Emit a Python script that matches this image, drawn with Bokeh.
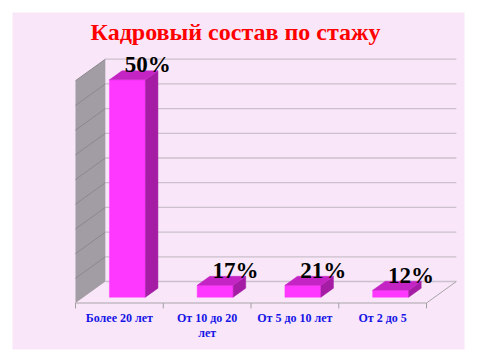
import numpy as np
from bokeh.plotting import figure
from bokeh.models import Range1d, ColumnDataSource
from bokeh.core.properties import value
from bokeh.embed import file_html
from bokeh.resources import INLINE

# ---------------- data ----------------
title_text = "Кадровый состав по  стажу"
categories = ["Более 20 лет", "От 10 до 20\nлет", "От 5 до 10 лет", "От 2 до 5"]
percent_labels = ["50%", "17%", "21%", "12%"]
bar_heights = [44.0, 2.4, 2.4, 1.4]          # plotted heights (value axis 0..45)
grid_values = [0, 5, 10, 15, 20, 25, 30, 35, 40, 45]

# ---------------- geometry (oblique 3-D projection in data units) ----------------
W, H = 481, 361
PX_PER_CAT = 87.75
PX_PER_VAL = 4.94
X0_PX, Y0_PX = 75.0, 302.5
DX = 0.34            # depth shift in category units (full wall depth)
DY = 4.35            # depth shift in value units (full wall depth)
VMAX = grid_values[-1]
NCAT = len(categories)

def proj(x, v, z):
    return x + z * DX, v + z * DY

p = figure(width=W, height=H, toolbar_location=None, output_backend="svg",
           x_range=Range1d(-X0_PX / PX_PER_CAT, (W - X0_PX) / PX_PER_CAT),
           y_range=Range1d(-(H - Y0_PX) / PX_PER_VAL, Y0_PX / PX_PER_VAL),
           x_axis_location=None, y_axis_location=None, min_border=0)
p.grid.visible = False
p.outline_line_color = None
p.background_fill_color = "white"
p.border_fill_color = "white"
p.extra_x_ranges = {"px": Range1d(0, W)}
p.extra_y_ranges = {"px": Range1d(H, 0)}
PX = dict(x_range_name="px", y_range_name="px")

# ---------------- card with blue glow ----------------
cx0, cy0, cx1, cy1 = 12, 12, 464, 349
yy, xx = np.mgrid[0:H, 0:W].astype(float)
ddx = np.maximum(np.maximum(cx0 - xx, xx - cx1), 0)
ddy = np.maximum(np.maximum(cy0 - yy, yy - cy1), 0)
d = np.sqrt(ddx ** 2 + ddy ** 2)
right_boost = np.where(xx > cx1, 1.3, 1.0)
vfade = np.clip(1.0 - (yy - 40) / 300.0, 0, 1) ** 1.1
alpha = np.clip(np.exp(-d / 4.5) * vfade * right_boost, 0, 1)
alpha[(ddx == 0) & (ddy == 0)] = 0
img = np.zeros((H, W), dtype=np.uint32)
view = img.view(dtype=np.uint8).reshape((H, W, 4))
view[:, :, 0] = 150
view[:, :, 1] = 150
view[:, :, 2] = 255
view[:, :, 3] = (alpha * 255).astype(np.uint8)
p.image_rgba(image=[img[::-1]], x=0, y=H, dw=W, dh=H, **PX)
p.quad(left=[cx0], right=[cx1], top=[cy0], bottom=[cy1],
       fill_color="#F9E6F9", line_color=None, **PX)

# ---------------- walls and floor ----------------
lw = [proj(0, 0, 0), proj(0, 0, 1), proj(0, VMAX, 1), proj(0, VMAX, 0)]
p.patch([q[0] for q in lw], [q[1] for q in lw], fill_color="#A29CA4", line_color=None)

# back-wall gridlines
gx, gy = [], []
for v in grid_values:
    a, b = proj(0, v, 1), proj(NCAT, v, 1)
    gx.append([a[0], b[0]]); gy.append([a[1], b[1]])
p.multi_line(gx, gy, line_color="#CBC0CB", line_width=1.3)

# left-wall gridlines
lx, ly = [], []
for v in grid_values[1:]:
    a, b = proj(0, v, 0), proj(0, v, 1)
    lx.append([a[0], b[0]]); ly.append([a[1], b[1]])
p.multi_line(lx, ly, line_color="#8C8790", line_width=1)

# floor edges
f = [proj(0, 0, 0), proj(NCAT, 0, 0), proj(NCAT, 0, 1)]
p.line([q[0] for q in f], [q[1] for q in f], line_color="#A8A4A8", line_width=1)
# category ticks
tx, ty = [], []
for i in range(NCAT + 1):
    tx.append([i, i]); ty.append([0, -1.1])
p.multi_line(tx, ty, line_color="#A0A0A0", line_width=1)

# ---------------- 3-D bars ----------------
HW, Z0, Z1 = 0.205, 0.27, 0.69
fx, fy, fc = [], [], []
for i, h in enumerate(bar_heights):
    c = i + 0.5
    faces = [
        ([(c - HW, 0, Z0), (c + HW, 0, Z0), (c + HW, h, Z0), (c - HW, h, Z0)], "#FF38FF"),
        ([(c + HW, 0, Z0), (c + HW, 0, Z1), (c + HW, h, Z1), (c + HW, h, Z0)], "#A51DA5"),
        ([(c - HW, h, Z0), (c + HW, h, Z0), (c + HW, h, Z1), (c - HW, h, Z1)], "#C524C5"),
    ]
    for pts, col in faces:
        pp = [proj(*q) for q in pts]
        fx.append([q[0] for q in pp]); fy.append([q[1] for q in pp]); fc.append(col)
p.patches(xs="xs", ys="ys", fill_color="c", line_color="c", line_width=0.5,
          source=ColumnDataSource(dict(xs=fx, ys=fy, c=fc)))

# ---------------- data labels ----------------
lab_x = [i + 0.5 + Z1 * DX + 0.09 for i in range(NCAT)]
lab_y = [h + Z1 * DY + 1.2 for h in bar_heights]
p.text(x=lab_x, y=lab_y, text=percent_labels, text_align="center",
       text_baseline="alphabetic", text_font=value("Liberation Serif"),
       text_font_style="bold", text_font_size="23px", text_color="black")

# ---------------- category labels ----------------
p.text(x=[i + 0.5 for i in range(NCAT)], y=[-1.6] * NCAT, text=categories,
       text_align="center", text_baseline="top", text_line_height=1.1,
       text_font=value("Liberation Serif"), text_font_style="bold",
       text_font_size="12px", text_color="#1414E6")

# ---------------- title ----------------
p.text(x=[238], y=[31], text=[title_text], text_align="center", text_baseline="middle",
       text_font=value("Liberation Serif"), text_font_style="bold",
       text_font_size="24px", text_color="#FF0000", **PX)

open("out.html", "w").write(file_html(p, INLINE))
